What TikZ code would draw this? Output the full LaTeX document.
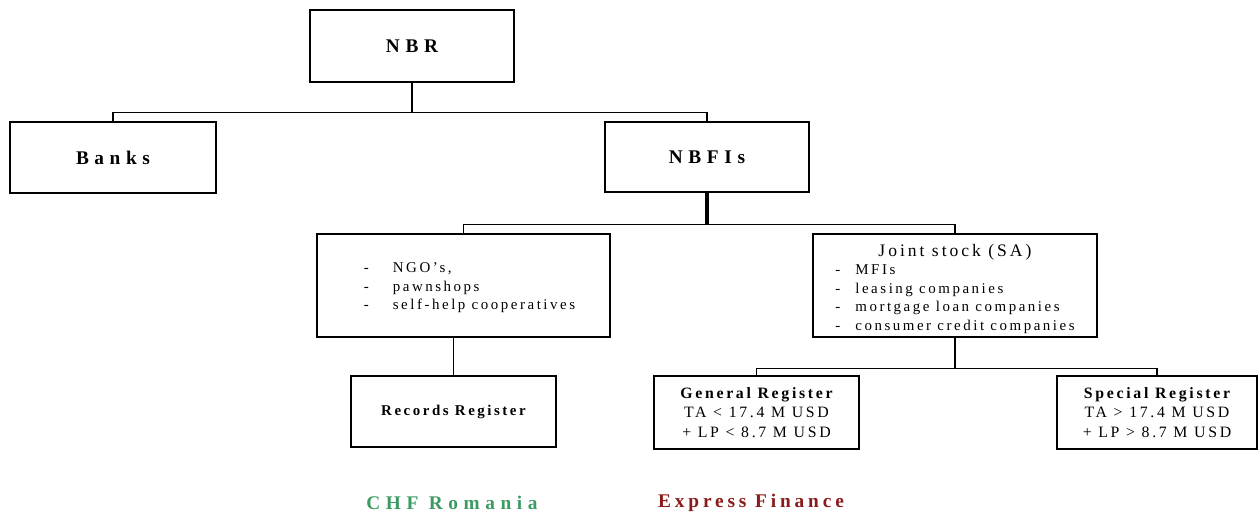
\documentclass[tikz,border=0pt]{standalone}
\usepackage{xcolor}
\usepackage{fontspec}
\usepackage{tikz}
\setmainfont{Liberation Serif}
\newfontfamily\wideserif[LetterSpace=17]{Liberation Serif}
\newfontfamily\headfont[LetterSpace=29]{Liberation Serif}
\newfontfamily\tailfont[LetterSpace=20]{Liberation Serif}
\definecolor{chfgreen}{HTML}{3C9B62}
\definecolor{efred}{HTML}{8B1A1A}

\begin{document}
\begin{tikzpicture}[x=0.02cm, y=-0.02cm,
        orgbox/.style={draw, line width=0.8pt, inner sep=0pt, text centered},
        headbox/.style={orgbox, font=\headfont\bfseries\fontsize{11}{13}\selectfont},
        listbox/.style={orgbox, font=\wideserif\fontsize{8.5}{10.5}\selectfont},
        regbox/.style={orgbox, align=center, font=\wideserif\fontsize{9}{11}\selectfont},
        link/.style={line width=0.8pt}]
    \useasboundingbox (0,0) rectangle (1258,517);
        % Top level
        \node[headbox, minimum width=4.08cm, minimum height=1.44cm] (nbr) at (412,46) {NBR};
        \node[headbox, minimum width=4.12cm, minimum height=1.42cm] (banks) at (113,157.5) {Banks};
        \node[headbox, minimum width=4.08cm, minimum height=1.40cm] (nbfi) at (707,157) {NBFIs};
        % NBFI groups
        \node[listbox, minimum width=5.86cm, minimum height=2.06cm] (ngo) at (463.5,285.5)
            {\begin{tabular}{@{\hspace{0.24cm}}l@{}}
                \rule{0pt}{9.6pt}\makebox[0.58cm][l]{-}NGO’s,\\
                \makebox[0.58cm][l]{-}pawnshops\\
                \makebox[0.58cm][l]{-}self-help cooperatives
            \end{tabular}};
        \node[listbox, minimum width=5.68cm, minimum height=2.06cm] (joint) at (955,285.5)
            {\begin{tabular}{@{}l@{}}
                \multicolumn{1}{c}{\rule{0pt}{12pt}\fontsize{10}{10.5}\selectfont Joint stock (SA)}\\
                \makebox[0.4cm][l]{-}MFIs\\
                \makebox[0.4cm][l]{-}leasing companies\\
                \makebox[0.4cm][l]{-}mortgage loan companies\\
                \makebox[0.4cm][l]{-}consumer credit companies
            \end{tabular}};
        % Registers
        \node[orgbox, minimum width=4.10cm, minimum height=1.42cm, font=\wideserif\bfseries\fontsize{8.5}{10}\selectfont] (records) at (453.5,411.5) {Records Register};
        \node[regbox, minimum width=4.10cm, minimum height=1.46cm] (general) at (756.5,412.5)
            {{\bfseries General Register}\\TA < 17.4 M USD\\+ LP < 8.7 M USD};
        \node[regbox, minimum width=4.00cm, minimum height=1.46cm] (special) at (1157,412.5)
            {{\bfseries Special Register}\\TA > 17.4 M USD\\+ LP > 8.7 M USD};
        % Examples below
        \node[font=\headfont\bfseries\fontsize{11}{13}\selectfont, text=chfgreen] (chf) at (452,503) {CHF Romania};
        \node[font=\tailfont\bfseries\fontsize{11}{13}\selectfont, text=efred] (express) at (751,503) {Express Finance};
        % Connectors
        \draw[link] (nbr.south) -- ++(0,30) coordinate (nbrsplit) -| (banks.north);
        \draw[link] (nbrsplit) -| (nbfi.north);
        \draw[line width=1.8pt] (nbfi.south) -- ++(0,32) coordinate (nbfisplit);
        \draw[link] (ngo.north) |- (nbfisplit) -| (joint.north);
        \draw[link] (records.north |- ngo.south) -- (records.north);
        \draw[link] (joint.south) -- ++(0,31) coordinate (jointsplit);
        \draw[link] (general.north) |- (jointsplit) -| (special.north);
    \end{tikzpicture}
\end{document}
